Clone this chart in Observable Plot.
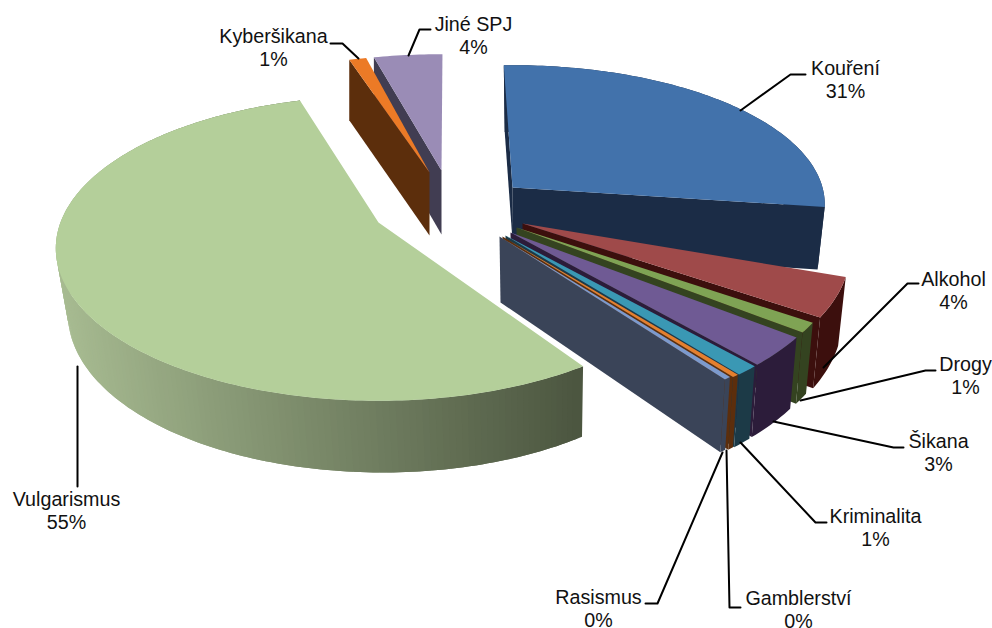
<!DOCTYPE html>
<html>
<head>
<meta charset="utf-8">
<script src="https://cdn.jsdelivr.net/npm/d3@7"></script>
<script src="https://cdn.jsdelivr.net/npm/@observablehq/plot@0.6"></script>
<style>
html,body{margin:0;padding:0;background:#fff;overflow:hidden}
svg{display:block}
</style>
</head>
<body>
<div id="chart"></div>
<script>
// Data
const categories = ["Kouření","Alkohol","Drogy","Šikana","Kriminalita","Gamblerství","Rasismus","Vulgarismus","Kyberšikana","Jiné SPJ"];
const values = [31,4,1,3,1,0.3,0.3,55,1,4];
// Colours
const topColors  = ["#4272ab","#9f4a4a","#7fa354","#6f5a94","#3a98b4","#e57f2e","#7c9acd","#b4cf9a","#ec7a26","#9a8cb6"];
const wallColors = ["#1b2c46","#3c0f0d","#344320","#2c1c3a","#1c3a47","#5c2e0c","#3a4458","#4c5640","#5c2e0c","#413d52"];
const wallLight = "#a8bc92";
// Painter's order of the slices
const drawOrder = [0,1,2,3,4,5,6,7,9,8];
// 3D layout per slice: apex on screen, radii, perspective, angle warp, depth
const layouts = [
  {ax:512,ay:187,R:310,S:137,k:.12,rot:-1.8,scale:.9,d0:63,dk:-.06,c:.025,start:true, end:true},
  {ax:522,ay:223,R:323,S:155,k:.17,rot:-1.9,scale:1,d0:66,dk:.13,c:.025,end:true},
  {ax:516,ay:227,R:323,S:155,k:.17,rot:-1.4,scale:1,d0:66,dk:.13,c:.025,end:true},
  {ax:510,ay:232,R:323,S:155,k:.17,rot:-1.4,scale:1,d0:66,dk:.13,c:.025,end:true},
  {ax:505,ay:235,R:323,S:155,k:.17,rot:-2,scale:1,d0:66,dk:.13,c:.025,end:true},
  {ax:502,ay:236,R:323,S:155,k:.17,rot:-2.4,scale:1,d0:66,dk:.13,c:.025,end:true},
  {ax:499,ay:236,R:323,S:155,k:.17,rot:-2.4,scale:1,d0:66,dk:.13,c:.025,end:true},
  {ax:378,ay:222,R:318,S:148,k:.17,rot:1.2,scale:1,d0:64,dk:.12,c:.025,gradient:true},
  {ax:429,ay:172,R:323,S:137,k:.17,rot:1.1,scale:1,d0:63,dk:.04,c:0,start:true,noRim:true},
  {ax:441,ay:170,R:323,S:136,k:.17,rot:.2,scale:1,d0:64,dk:.05,c:0,start:true,noRim:true}
];
const vanishX = 540;
// Labels and leader paths
const labelPos = [[845,79],[953,290],[965,375],[938,452],[875,527],[798,609],[598,607.5],[66,510],[273,47],[473,35]];
const leaders = [
  [[740,110],[790,74],[805,74]],
  [[823,367],[907,283],[918,283]],
  [[800,400],[925,370],[935,370]],
  [[773,421],[893,447],[903,447]],
  [[740,442],[815,522],[826,522]],
  [[726,450],[729,607],[740,607]],
  [[722,452],[657,603],[645,603]],
  [[77,366],[77,486]],
  [[358,58],[342,43],[330,43]],
  [[408,55],[419,29],[430,29]]
];

const total = d3.sum(values);
const rad = Math.PI/180;
function project(l, deg, r){
  const t = deg*rad, u = r*Math.sin(t), v = r*Math.cos(t), w = 1 + l.k*v;
  const x = l.ax + l.R*u/w, y = l.ay - l.S*v/w;
  const d = l.d0*(1 - l.dk*v);
  return {x, y, bx: x - l.c*(x - vanishX), by: y + d};
}
const polys = [];
let pid = 0;
function addPoly(pts, color){
  const id = pid++;
  pts.forEach(p => polys.push({id, x:p[0], y:p[1], color}));
}
const slices = [];
let acc = 0;
values.forEach((val,i) => {
  const a0 = acc/total*360, a1 = (acc+val)/total*360;
  acc += val;
  slices.push({i,a0,a1});
});
drawOrder.map(i => slices[i]).forEach(({i,a0,a1}) => {
  const l = layouts[i];
  const t0 = a0*l.scale + l.rot, t1 = a1*l.scale + l.rot;
  const n = Math.max(2, Math.ceil((t1-t0)/1));
  const thetas = d3.range(n+1).map(j => t0 + (t1-t0)*j/n);
  const rim = thetas.map(t => project(l,t,1));
  const apex = project(l,t0,0);
  if (l.start) addPoly([[apex.x,apex.y],[rim[0].x,rim[0].y],[rim[0].bx,rim[0].by],[apex.bx,apex.by]], wallColors[i]);
  if (l.gradient) {
    const col = d3.interpolateRgb(wallLight, wallColors[i]);
    const xs = d3.extent(rim, p=>p.x);
    for (let j=n-1;j>=0;j--){
      const a=rim[j], b=rim[Math.min(n,j+1)];
      const f=((a.x+b.x)/2 - xs[0])/(xs[1]-xs[0]);
      const c=rim[Math.min(n,j+2)];
      addPoly([[a.x,a.y],[b.x,b.y],[c.x,c.y],[c.bx,c.by],[b.bx,b.by],[a.bx,a.by]], col(f));
    }
  } else if (!l.noRim) {
    addPoly([...rim.map(p=>[p.x,p.y]), ...rim.slice().reverse().map(p=>[p.bx,p.by])], wallColors[i]);
  }
  if (l.end) {
    const e = rim[n];
    addPoly([[apex.x,apex.y],[e.x,e.y],[e.bx,e.by],[apex.bx,apex.by]], wallColors[i]);
  }
  addPoly([[apex.x,apex.y], ...rim.map(p=>[p.x,p.y])], topColors[i]);
});

const leaderRows = leaders.flatMap((pts,i)=>pts.map(p=>({i,x:p[0],y:p[1]})));
const labelRows = categories.map((c,i)=>({
  text:`${c}\n${Math.round(values[i])}%`, x:labelPos[i][0], y:labelPos[i][1]
}));

const plot = Plot.plot({
  width:992, height:628,
  marginTop:0, marginRight:0, marginBottom:0, marginLeft:0,
  x:{domain:[0,992], range:[0,992], axis:null},
  y:{domain:[0,628], range:[0,628], axis:null},
  color:{type:"identity"},
  style:{background:"#fff"},
  marks:[
    Plot.line(polys,{x:"x",y:"y",z:"id",fill:"color",stroke:"none",curve:"linear"}),
    Plot.line(leaderRows,{x:"x",y:"y",z:"i",stroke:"#000",strokeWidth:2,curve:"linear"}),
    Plot.text(labelRows,{x:"x",y:"y",text:"text",fontSize:19.7,lineHeight:1.17,textAnchor:"middle",fill:"#111",fontFamily:"'Liberation Sans',Arial,sans-serif"})
  ]
});
document.getElementById("chart").appendChild(plot);
</script>
</body>
</html>
